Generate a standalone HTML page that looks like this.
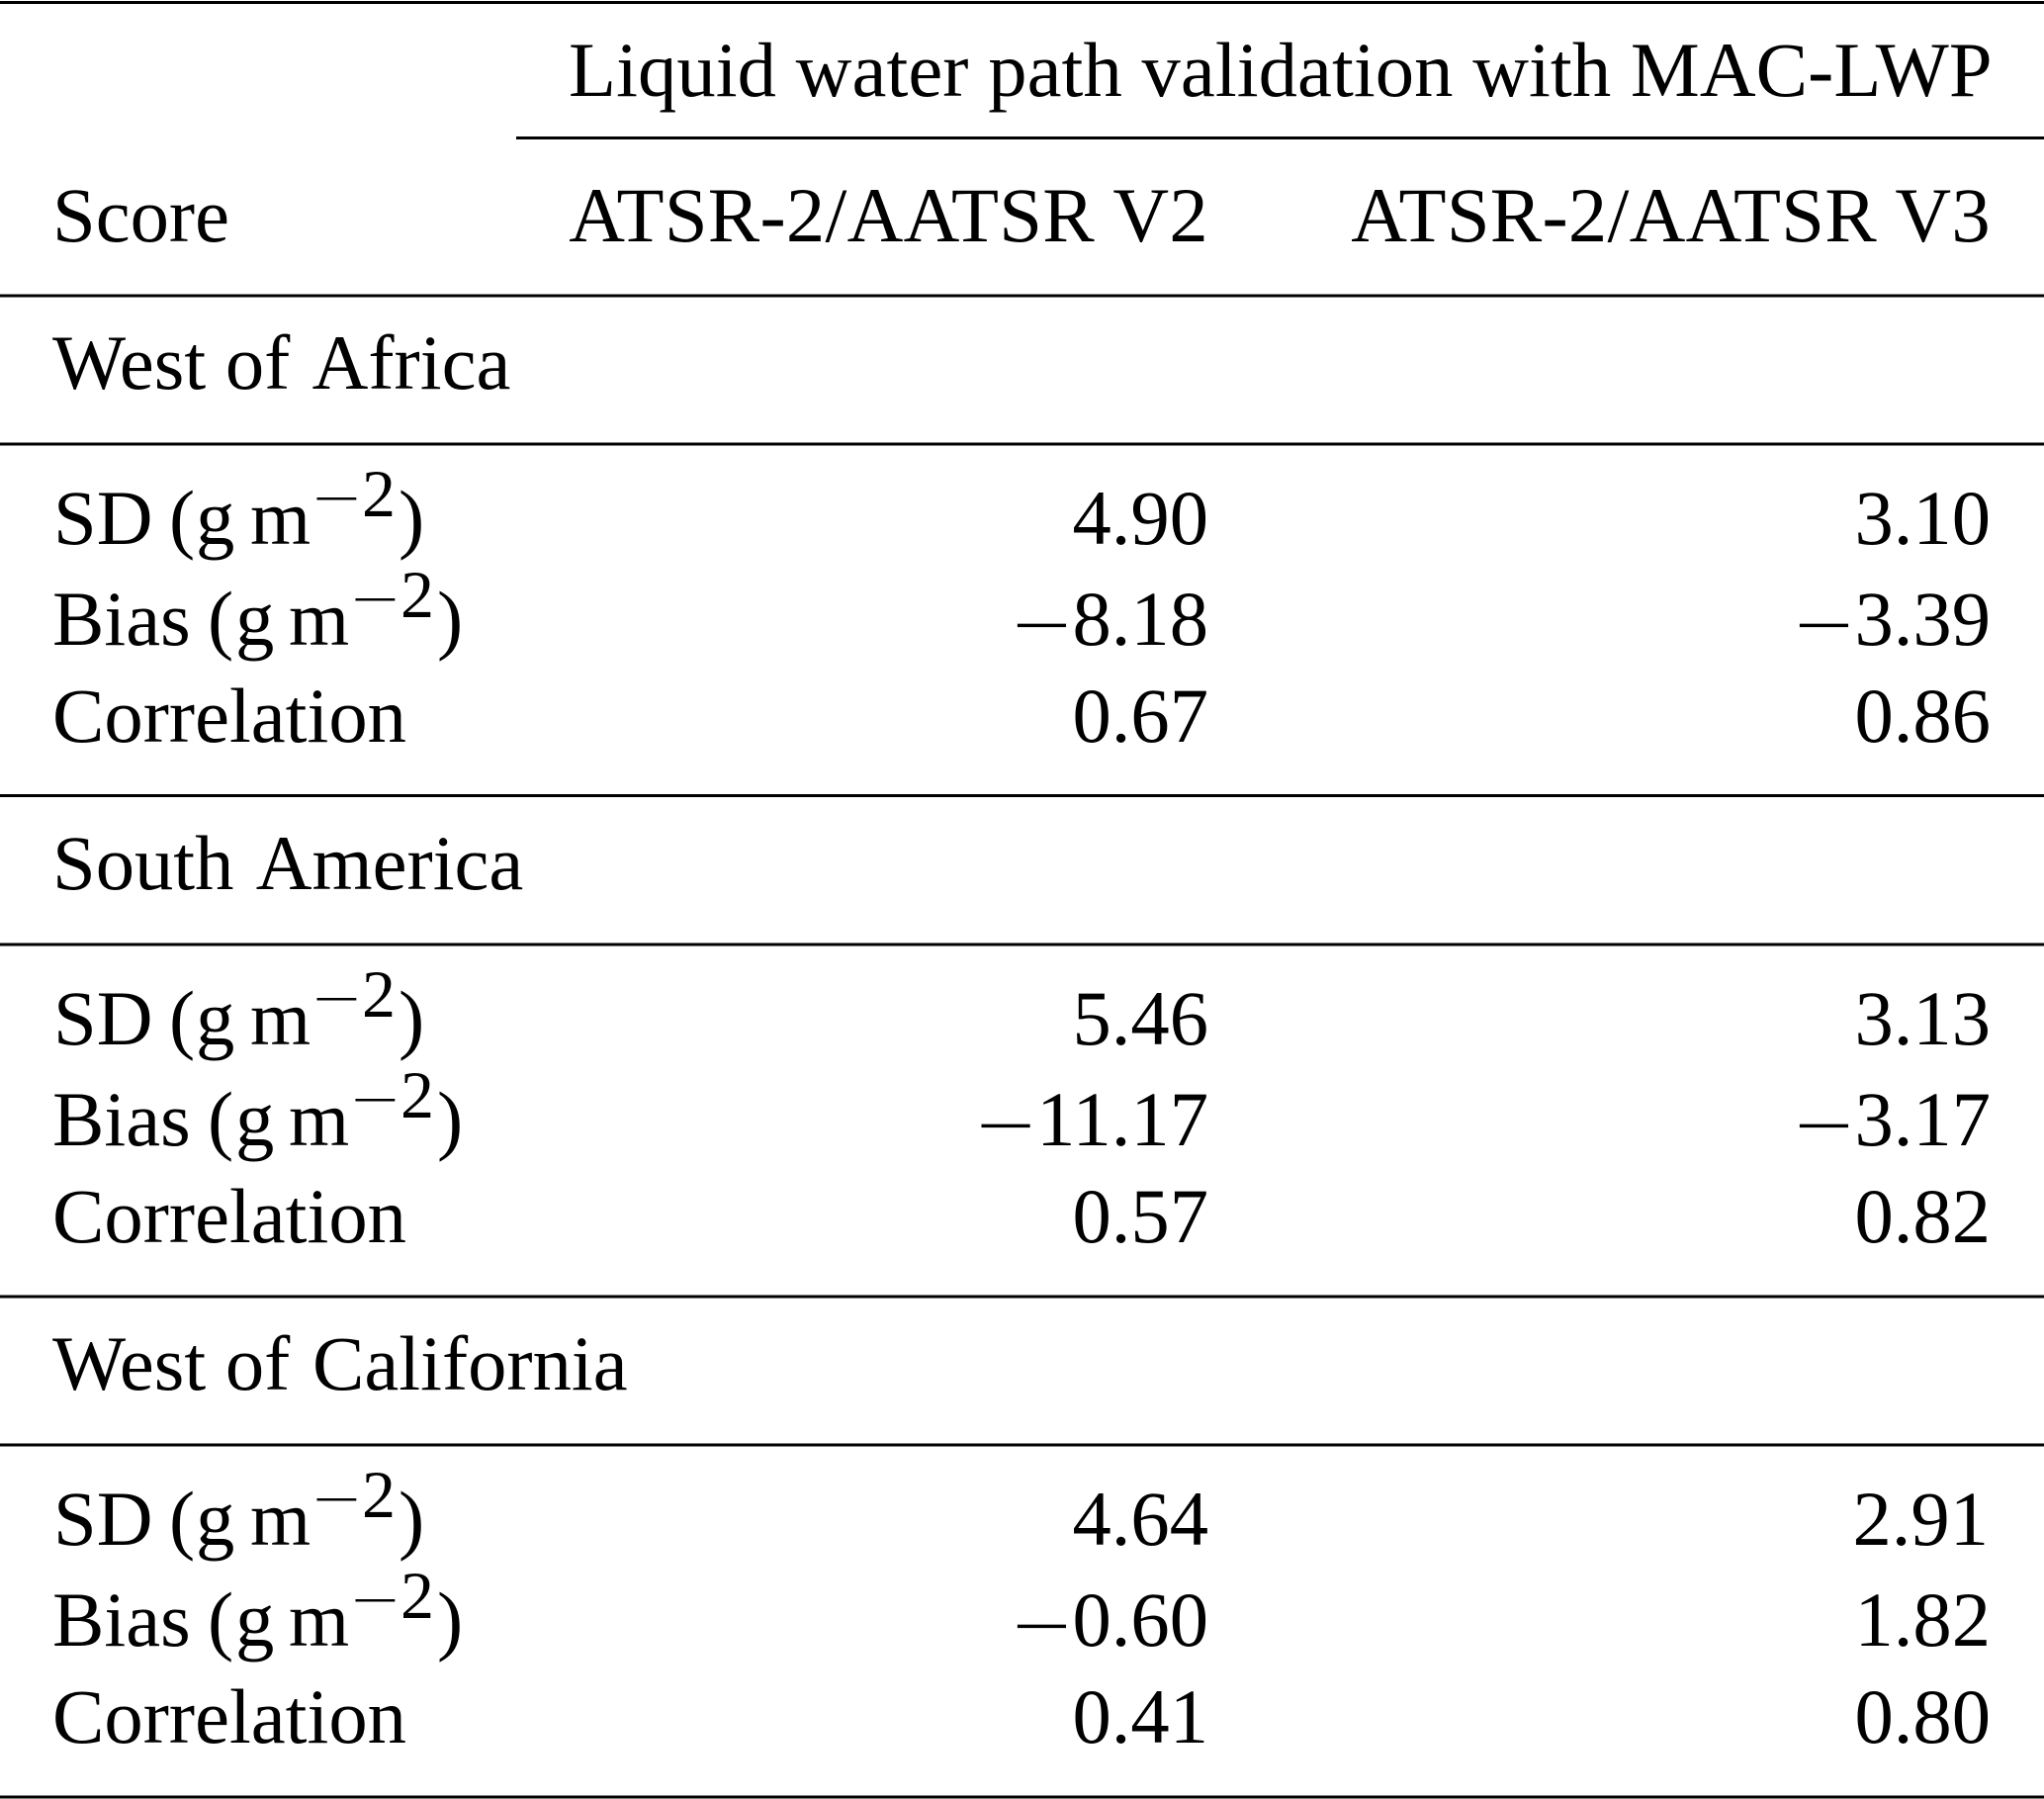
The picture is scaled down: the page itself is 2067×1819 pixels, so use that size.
<!DOCTYPE html>
<html lang="en">
<head>
<meta charset="utf-8">
<title>Liquid water path validation with MAC-LWP</title>
<style>
  html, body { margin: 0; padding: 0; background: #fff; width: 2067px; height: 1819px; overflow: hidden; }
  svg { display: block; }
  text { font-family: "Liberation Serif", "Times New Roman", serif; font-size: 78.6px; fill: #000; }
  .num { text-anchor: end; }
  .sup { font-size: 68px; }
  .supm { font-size: 90px; stroke: #fff; stroke-width: 2px; }
  .neg { font-size: 110px; stroke: #fff; stroke-width: 2px; }
  .hdr { letter-spacing: 0.27px; }
  .span { letter-spacing: 0.065px; }
  line { stroke: #000; stroke-width: 3px; }
</style>
</head>
<body>
<svg xmlns="http://www.w3.org/2000/svg" width="2067" height="1819" viewBox="0 0 2067 1819">
  <rect x="0" y="0" width="2067" height="1819" fill="#fff"/>

  <line x1="0" x2="2067" y1="2.5" y2="2.5"/>
  <line x1="522" x2="2067" y1="139.5" y2="139.5"/>
  <line x1="0" x2="2067" y1="299" y2="299"/>
  <line x1="0" x2="2067" y1="449" y2="449"/>
  <line x1="0" x2="2067" y1="804.5" y2="804.5"/>
  <line x1="0" x2="2067" y1="955" y2="955"/>
  <line x1="0" x2="2067" y1="1311" y2="1311"/>
  <line x1="0" x2="2067" y1="1461" y2="1461"/>
  <line x1="0" x2="2067" y1="1817" y2="1817"/>

  <text class="span" x="575" y="97">Liquid water path validation with MAC-LWP</text>
  <text x="53" y="244">Score</text>
  <text class="num hdr" x="1222" y="244">ATSR-2/AATSR V2</text>
  <text class="num hdr" x="2013" y="244">ATSR-2/AATSR V3</text>

  <text x="53" y="393">West of <tspan dx="7">Africa</tspan></text>
  <text y="550"><tspan x="54">SD</tspan><tspan x="171">(</tspan><tspan x="198">g</tspan><tspan x="253">m</tspan><tspan class="supm" x="315" dy="-16">−</tspan><tspan class="sup" x="366" dy="-12">2</tspan><tspan x="403" dy="28">)</tspan></text>
  <text class="num" x="1222" y="550">4.90</text>
  <text class="num" x="2013" y="550">3.10</text>
  <text y="652"><tspan x="53">Bias</tspan><tspan x="210">(</tspan><tspan x="238">g</tspan><tspan x="292">m</tspan><tspan class="supm" x="354" dy="-16">−</tspan><tspan class="sup" x="405" dy="-12">2</tspan><tspan x="442" dy="28">)</tspan></text>
  <text class="num" x="1222" y="652"><tspan class="neg" dy="17">−</tspan><tspan dy="-17">8.18</tspan></text>
  <text class="num" x="2013" y="652"><tspan class="neg" dy="17">−</tspan><tspan dy="-17">3.39</tspan></text>
  <text x="53" y="750">Correlation</text>
  <text class="num" x="1222" y="750">0.67</text>
  <text class="num" x="2013" y="750">0.86</text>

  <text x="53" y="899">South <tspan dx="7">America</tspan></text>
  <text y="1056"><tspan x="54">SD</tspan><tspan x="171">(</tspan><tspan x="198">g</tspan><tspan x="253">m</tspan><tspan class="supm" x="315" dy="-16">−</tspan><tspan class="sup" x="366" dy="-12">2</tspan><tspan x="403" dy="28">)</tspan></text>
  <text class="num" x="1222" y="1056">5.46</text>
  <text class="num" x="2013" y="1056">3.13</text>
  <text y="1158"><tspan x="53">Bias</tspan><tspan x="210">(</tspan><tspan x="238">g</tspan><tspan x="292">m</tspan><tspan class="supm" x="354" dy="-16">−</tspan><tspan class="sup" x="405" dy="-12">2</tspan><tspan x="442" dy="28">)</tspan></text>
  <text class="num" x="1222" y="1158"><tspan class="neg" dy="17">−</tspan><tspan dy="-17">11.17</tspan></text>
  <text class="num" x="2013" y="1158"><tspan class="neg" dy="17">−</tspan><tspan dy="-17">3.17</tspan></text>
  <text x="53" y="1256">Correlation</text>
  <text class="num" x="1222" y="1256">0.57</text>
  <text class="num" x="2013" y="1256">0.82</text>

  <text x="53" y="1405">West of <tspan dx="3">California</tspan></text>
  <text y="1562"><tspan x="54">SD</tspan><tspan x="171">(</tspan><tspan x="198">g</tspan><tspan x="253">m</tspan><tspan class="supm" x="315" dy="-16">−</tspan><tspan class="sup" x="366" dy="-12">2</tspan><tspan x="403" dy="28">)</tspan></text>
  <text class="num" x="1222" y="1562">4.64</text>
  <text class="num" x="2011" y="1562">2.91</text>
  <text y="1664"><tspan x="53">Bias</tspan><tspan x="210">(</tspan><tspan x="238">g</tspan><tspan x="292">m</tspan><tspan class="supm" x="354" dy="-16">−</tspan><tspan class="sup" x="405" dy="-12">2</tspan><tspan x="442" dy="28">)</tspan></text>
  <text class="num" x="1222" y="1664"><tspan class="neg" dy="17">−</tspan><tspan dy="-17">0.60</tspan></text>
  <text class="num" x="2013" y="1664">1.82</text>
  <text x="53" y="1762">Correlation</text>
  <text class="num" x="1222" y="1762">0.41</text>
  <text class="num" x="2013" y="1762">0.80</text>
</svg>
</body>
</html>
